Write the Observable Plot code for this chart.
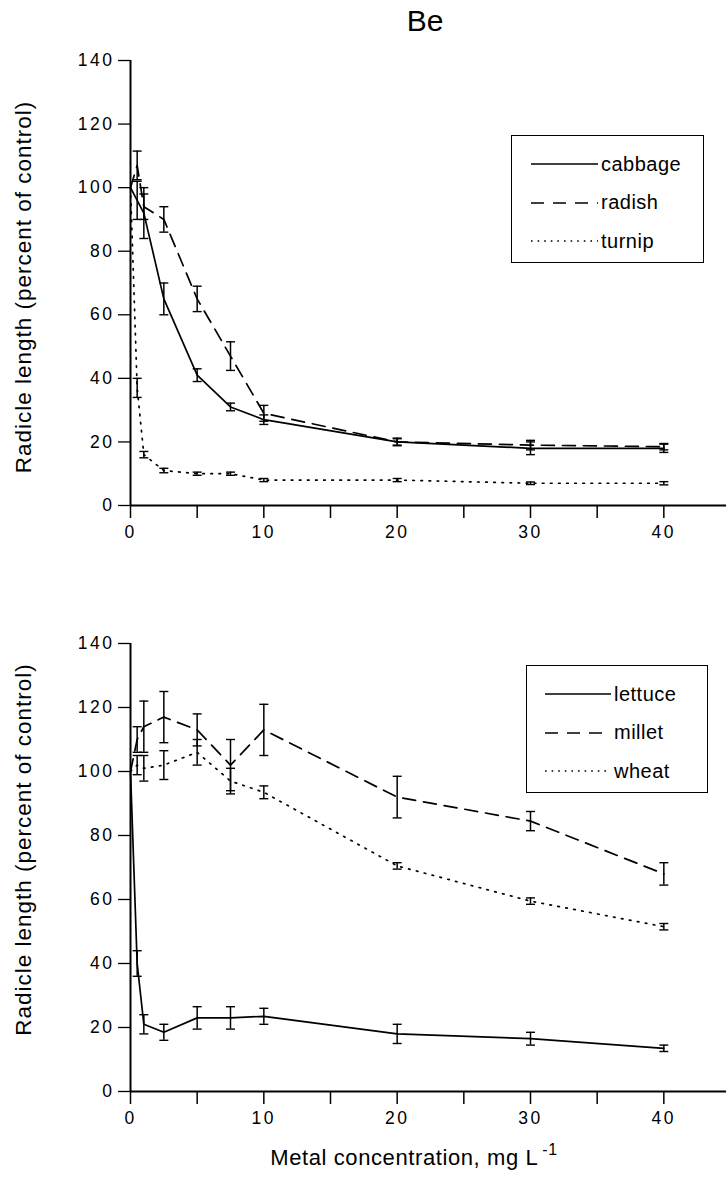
<!DOCTYPE html>
<html>
<head>
<meta charset="utf-8">
<script src="https://cdn.jsdelivr.net/npm/d3@7"></script>
<script src="https://cdn.jsdelivr.net/npm/@observablehq/plot@0.6"></script>
<style>
  html, body { margin: 0; padding: 0; background: #fff; }
  #wrap { position: relative; width: 726px; height: 1182px; font-family: "Liberation Sans", Arial, Helvetica, sans-serif; color: #000; overflow: hidden; }
  .abs { position: absolute; }
  #title { top: 4px; left: 425px; transform: translateX(-50%); font-size: 30px; }
  #xtitle { top: 1143px; left: 414px; transform: translateX(-50%); font-size: 22px; letter-spacing: 0.6px; white-space: nowrap; }
  #xtitle sup { font-size: 16px; position: relative; top: -2px; margin-left: 4px; }
  .legend { border: 1.5px solid #000; background: #fff; box-sizing: border-box; }
  .legend .row { position: absolute; left: 0; height: 24px; display: flex; align-items: center; font-size: 20px; }
  svg text { fill: #000; }
  .tk text { letter-spacing: 2.5px; font-size: 17.5px; }
  .ytitle text { letter-spacing: 1px; }
</style>
</head>
<body>
<div id="wrap">
  <div id="title" class="abs">Be</div>
  <div id="top" class="abs" style="top:40px;left:0"></div>
  <div id="bottom" class="abs" style="top:600px;left:0"></div>
  <div id="xtitle" class="abs">Metal concentration, mg L<sup>-1</sup></div>
</div>
<script>
// ---- data ----
const conc = [0, 0.5, 1, 2.5, 5, 7.5, 10, 20, 30, 40];

const cabbage    = [100, 96, 92, 65, 41, 31, 27, 20, 18, 18];
const cabbageErr = [0, 6, 8, 5, 2, 1.2, 1.5, 1.2, 2, 1.3];
const radish     = [100, 107, 94, 90, 65, 47, 29, 20, 19, 18.5];
const radishErr  = [0, 4.5, 4, 4, 4, 4.5, 2.5, 1, 1.5, 1];
const turnip     = [100, 37, 16, 11, 10, 10, 8, 8, 7, 7];
const turnipErr  = [0, 3, 1, 0.7, 0.5, 0.5, 0.5, 0.5, 0.4, 0.5];

const lettuce    = [100, 40, 21, 18.5, 23, 23, 23.5, 18, 16.5, 13.5];
const lettuceErr = [0, 4, 3, 2.5, 3.5, 3.5, 2.5, 3, 2, 1];
const millet     = [100, 110, 114, 117, 113, 102, 113, 92, 84.5, 68];
const milletErr  = [0, 4, 8, 8, 5, 8, 8, 6.5, 3, 3.5];
const wheat      = [100, 102, 101, 102, 106, 97, 93.5, 70.5, 59.5, 51.5];
const wheatErr   = [0, 3, 4, 4.5, 4, 4, 2, 1, 1, 1];

const xTicks = [0, 5, 10, 15, 20, 25, 30, 35, 40];
const xTickLabels = ["0", "", "10", "", "20", "", "30", "", "40"];
const yTicks = [0, 20, 40, 60, 80, 100, 120, 140];
const yTickLabels = ["0", "20", "40", "60", "80", "100", "120", "140"];

const yTitle = "Radicle length (percent of control)";

const topSeries = [
  {name: "cabbage", y: cabbage, e: cabbageErr, dash: null},
  {name: "radish", y: radish, e: radishErr, dash: "13,8"},
  {name: "turnip", y: turnip, e: turnipErr, dash: "1.6,6.5"}
];
const bottomSeries = [
  {name: "lettuce", y: lettuce, e: lettuceErr, dash: null},
  {name: "millet", y: millet, e: milletErr, dash: "13,8"},
  {name: "wheat", y: wheat, e: wheatErr, dash: "1.6,6.5"}
];

// ---- helpers ----
const capSymbol = {
  draw(context, size) {
    const w = Math.sqrt(size / Math.PI);
    context.moveTo(-w, 0);
    context.lineTo(w, 0);
  }
};

function rows(s) {
  return conc.map((x, i) => ({x, y: s.y[i], e: s.e[i], series: s.name}));
}

function panel(series, opts) {
  const marks = [];
  for (const s of series) {
    const data = rows(s);
    const errs = data.filter(d => d.e > 0);
    marks.push(Plot.line(data, {x: "x", y: "y", stroke: "#000", strokeWidth: 1.7,
      strokeDasharray: s.dash || undefined}));
    marks.push(Plot.ruleX(errs, {x: "x", y1: d => d.y - d.e, y2: d => d.y + d.e, stroke: "#000", strokeWidth: 1.5}));
    marks.push(Plot.dot(errs, {x: "x", y: d => d.y - d.e, symbol: capSymbol, r: 4.5, stroke: "#000", fill: "none", strokeWidth: 1.4}));
    marks.push(Plot.dot(errs, {x: "x", y: d => d.y + d.e, symbol: capSymbol, r: 4.5, stroke: "#000", fill: "none", strokeWidth: 1.4}));
  }
  return Plot.plot({
    width: 726,
    height: opts.height,
    marginLeft: 130,
    marginRight: 0,
    marginTop: opts.marginTop,
    marginBottom: opts.marginBottom,
    style: {fontFamily: '"Liberation Sans", Arial, Helvetica, sans-serif', fontSize: "17px", background: "#fff", overflow: "visible"},
    x: {domain: [0, 44.7]},
    y: {domain: [0, 140]},
    marks: [
      Plot.axisX({ticks: xTicks, tickFormat: (d) => xTickLabels[xTicks.indexOf(d)], tickSize: 13, tickPadding: 7,
        label: null, className: "tk", strokeWidth: 1.5}),
      Plot.axisY({ticks: yTicks, tickFormat: (d) => yTickLabels[yTicks.indexOf(d)], tickSize: 12, tickPadding: 4,
        label: null, className: "tk", strokeWidth: 1.3}),
      Plot.text([yTitle], {frameAnchor: "left", text: d => d, rotate: -90, textAnchor: "middle", lineAnchor: "middle",
        dx: -107, dy: opts.titleDy, fontSize: 22.5, fill: "#000", className: "ytitle"}),
      Plot.ruleY([0], {stroke: "#000", strokeWidth: 1.8}),
      Plot.ruleX([0], {y1: 0, y2: 140, stroke: "#000", strokeWidth: 2}),
      ...marks
    ]
  });
}

function legend(series, box) {
  const div = document.createElement("div");
  div.className = "abs legend";
  Object.assign(div.style, {left: box.left + "px", top: box.top + "px", width: box.width + "px", height: box.height + "px"});
  series.forEach((s, i) => {
    const row = document.createElement("div");
    row.className = "row";
    row.style.top = (box.rowTop + i * box.rowGap - 12) + "px";
    row.style.left = box.lineLeft + "px";
    const ns = "http://www.w3.org/2000/svg";
    const svg = document.createElementNS(ns, "svg");
    svg.setAttribute("width", box.lineWidth);
    svg.setAttribute("height", 10);
    const ln = document.createElementNS(ns, "line");
    ln.setAttribute("x1", 0); ln.setAttribute("x2", box.lineWidth);
    ln.setAttribute("y1", 5); ln.setAttribute("y2", 5);
    ln.setAttribute("stroke", "#000"); ln.setAttribute("stroke-width", 1.5);
    if (s.dash) ln.setAttribute("stroke-dasharray", s.dash === "13,8" ? "13,9" : "1.6,5");
    svg.appendChild(ln);
    const span = document.createElement("span");
    span.textContent = s.name;
    span.style.marginLeft = "3px";
    span.style.letterSpacing = "0.5px";
    row.appendChild(svg);
    row.appendChild(span);
    div.appendChild(row);
  });
  document.getElementById("wrap").appendChild(div);
}

document.getElementById("top").appendChild(panel(topSeries, {height: 520, marginTop: 20, marginBottom: 55, titleDy: 4}));
document.getElementById("bottom").appendChild(panel(bottomSeries, {height: 540, marginTop: 43, marginBottom: 49, titleDy: -18}));

legend(topSeries, {left: 511, top: 135, width: 193, height: 128, rowTop: 28, rowGap: 38.5, lineLeft: 19, lineWidth: 67});
legend(bottomSeries, {left: 526, top: 665, width: 182, height: 128, rowTop: 28, rowGap: 38.5, lineLeft: 18, lineWidth: 66});
</script>
</body>
</html>
